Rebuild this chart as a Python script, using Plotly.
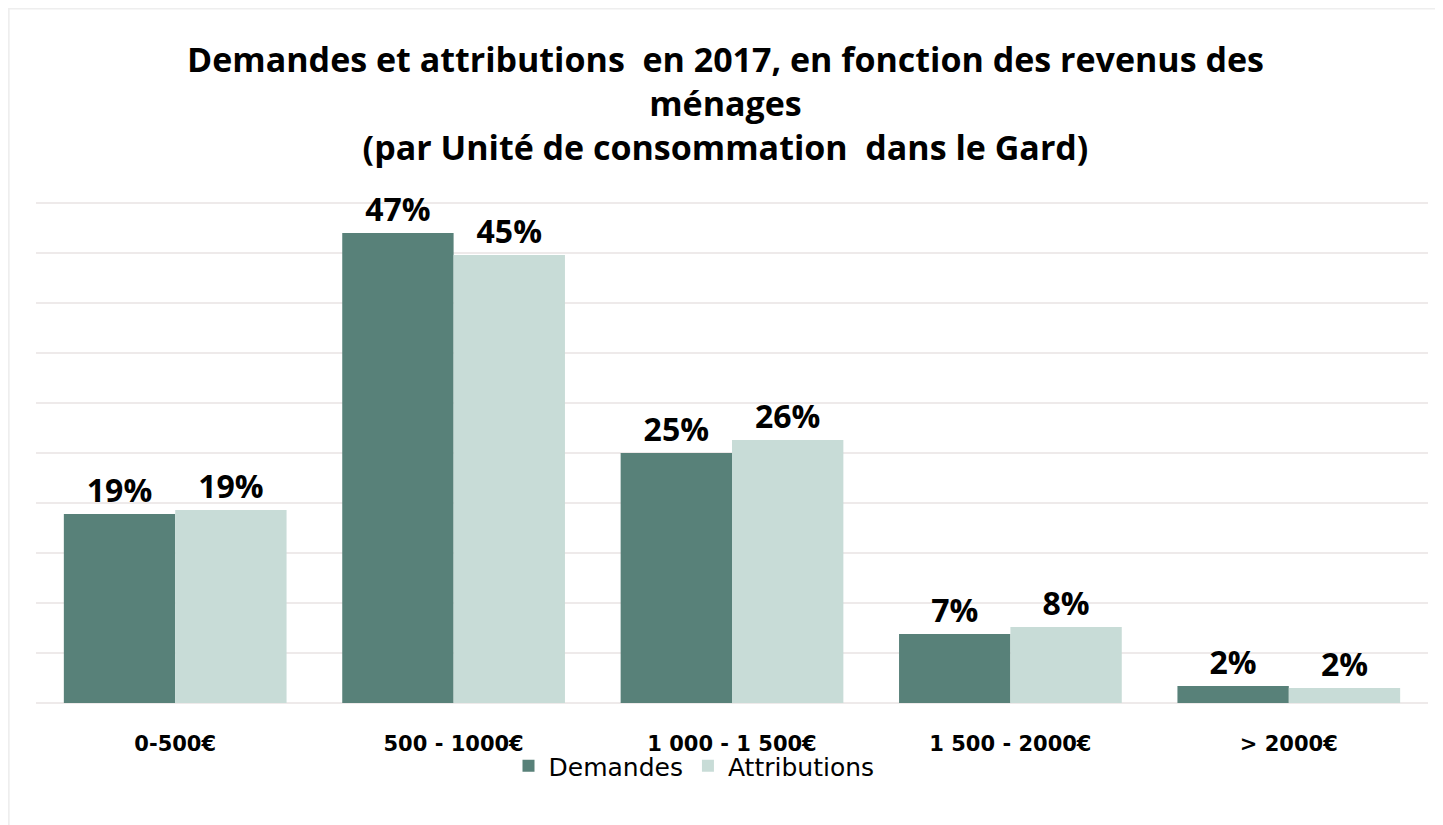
import plotly.graph_objects as go

categories = ["0-500€", "500 - 1000€", "1 000 - 1 500€", "1 500 - 2000€", "> 2000€"]
demandes = [18.9, 47.0, 25.0, 6.9, 1.7]
attributions = [19.3, 44.8, 26.3, 7.6, 1.5]
demandes_labels = ["19%", "47%", "25%", "7%", "2%"]
attributions_labels = ["19%", "45%", "26%", "8%", "2%"]

label_font = dict(family="Open Sans", size=32, color="#000000", weight="bold")

fig = go.Figure()
fig.add_trace(go.Bar(
    name="Demandes", x=categories, y=demandes,
    marker=dict(color="#588179", line=dict(width=0)),
    text=demandes_labels, textposition="outside", textfont=label_font,
    cliponaxis=False,
))
fig.add_trace(go.Bar(
    name="Attributions", x=categories, y=attributions,
    marker=dict(color="#c8dcd7", line=dict(width=0)),
    text=attributions_labels, textposition="outside", textfont=label_font,
    cliponaxis=False,
))

PW, PH = 1392, 504
fig.update_layout(
    width=1435, height=817,
    paper_bgcolor="white", plot_bgcolor="white",
    margin=dict(l=28, r=15, t=191, b=122, autoexpand=False),
    barmode="group", bargap=0.2, bargroupgap=0,
    title=dict(
        text="<b>Demandes et attributions  en 2017, en fonction des revenus des<br>ménages<br>(par Unité de consommation  dans le Gard)</b>",
        x=0.5, xanchor="center", y=1 - 64 / 817, yanchor="top",
        font=dict(family="Open Sans", size=34, color="#000000"),
    ),
    xaxis=dict(
        showgrid=False, showline=False, ticks="", ticklabelstandoff=26,
        tickfont=dict(family="DejaVu Sans", size=21, color="#000000", weight="bold"),
    ),
    yaxis=dict(
        range=[0, 50.4], dtick=5, showticklabels=False,
        showgrid=True, gridcolor="#eeeaea", gridwidth=2,
        zeroline=True, zerolinecolor="#eeeaea", zerolinewidth=2,
    ),
    legend=dict(
        orientation="h", x=(694 - 36) / PW, xanchor="center", y=-40 / PH, yanchor="top",
        font=dict(family="DejaVu Sans", size=25, color="#000000"),
        bgcolor="rgba(0,0,0,0)",
        traceorder="normal",
    ),
    shapes=[dict(
        type="rect", xref="paper", yref="paper",
        x0=-28 / PW + 0.0005, x1=1.05, y0=-0.4, y1=1 + 191 / PH - 0.001,
        line=dict(color="#eeeeee", width=2), fillcolor="rgba(0,0,0,0)", layer="below",
    )],
)

fig.write_html("out.html")
